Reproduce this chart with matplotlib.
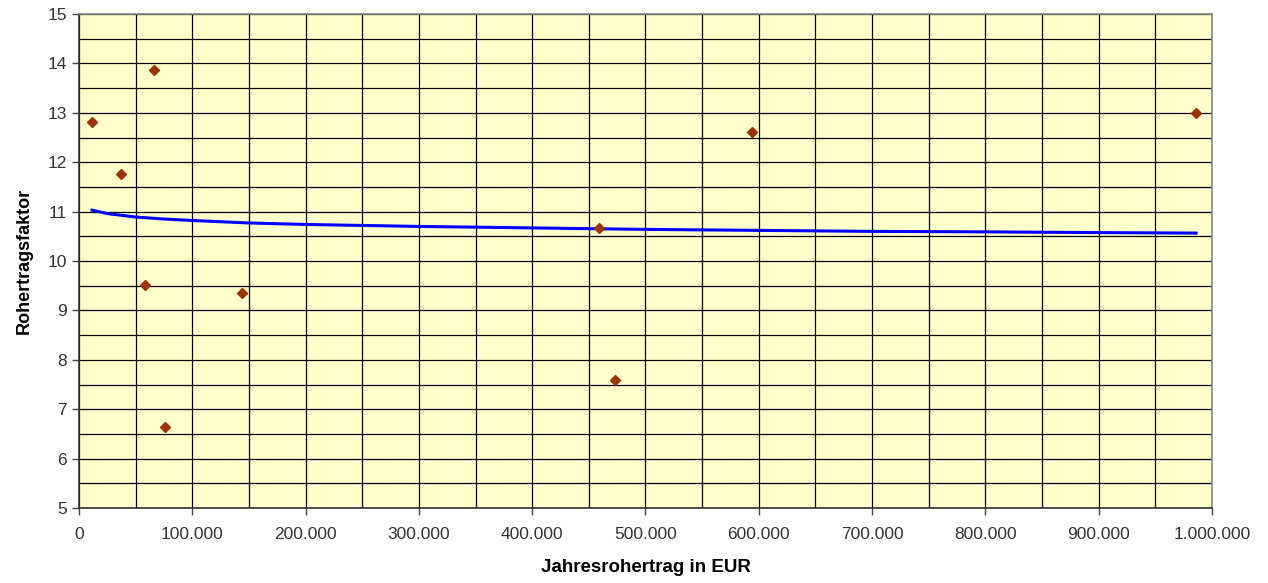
import matplotlib
matplotlib.use("Agg")
import matplotlib.pyplot as plt
from matplotlib.ticker import MultipleLocator, FuncFormatter
from matplotlib import font_manager

# Einzelwerte (Jahresrohertrag in EUR / Rohertragsfaktor)
ertrag = [11500, 37000, 66000, 58000, 76000, 144000, 459000, 473000, 594000, 986000]
faktor = [12.81, 11.76, 13.87, 9.51, 6.65, 9.36, 10.67, 7.59, 12.61, 13.00]

# Trendlinie
trend_x = [11500, 25000, 50000, 75000, 100000, 150000, 200000, 300000, 400000,
           500000, 600000, 700000, 800000, 900000, 986000]
trend_y = [11.03, 10.96, 10.89, 10.85, 10.82, 10.77, 10.74, 10.70, 10.67,
           10.64, 10.62, 10.60, 10.59, 10.575, 10.565]

names = {f.name for f in font_manager.fontManager.ttflist}
base = 'Liberation Sans' if 'Liberation Sans' in names else 'DejaVu Sans'
narrow = 'Liberation Sans Narrow' if 'Liberation Sans Narrow' in names else base
plt.rcParams['font.family'] = base

fig = plt.figure(figsize=(12.68, 5.83), dpi=100)
ax = fig.add_axes([0.0623, 0.1286, 0.8935, 0.8474])
ax.set_facecolor('#FFFFCC')

ax.plot(trend_x, trend_y, color='#0000FF', lw=2.2, zorder=3)
ax.plot(ertrag, faktor, linestyle='none', marker='D', markersize=5.5,
        color='#993300', zorder=4)

ax.set_xlim(0, 1000000)
ax.set_ylim(5, 15)
ax.xaxis.set_major_locator(MultipleLocator(100000))
ax.xaxis.set_minor_locator(MultipleLocator(50000))
ax.yaxis.set_major_locator(MultipleLocator(1))
ax.yaxis.set_minor_locator(MultipleLocator(0.5))
ax.xaxis.set_major_formatter(FuncFormatter(lambda v, p: f"{int(v):,}".replace(",", ".")))

ax.grid(which='both', color='#000000', lw=0.9)
ax.set_axisbelow(True)
ax.tick_params(which='major', direction='out', length=5, width=1, color='#444444',
               labelsize=12.5, labelcolor='#333333')
ax.tick_params(which='minor', length=0)
ax.tick_params(axis='x', pad=9)

for s in ['top', 'right']:
    ax.spines[s].set_color('#888888')
    ax.spines[s].set_linewidth(1.2)
for s in ['left', 'bottom']:
    ax.spines[s].set_color('#333333')
    ax.spines[s].set_linewidth(1.2)

ax.set_xlabel('Jahresrohertrag in EUR', fontsize=13.5, fontweight='bold', family=narrow, labelpad=12)
ax.set_ylabel('Rohertragsfaktor', fontsize=13, fontweight='bold', family=narrow, labelpad=11)

fig.savefig('out.png', dpi=100)
